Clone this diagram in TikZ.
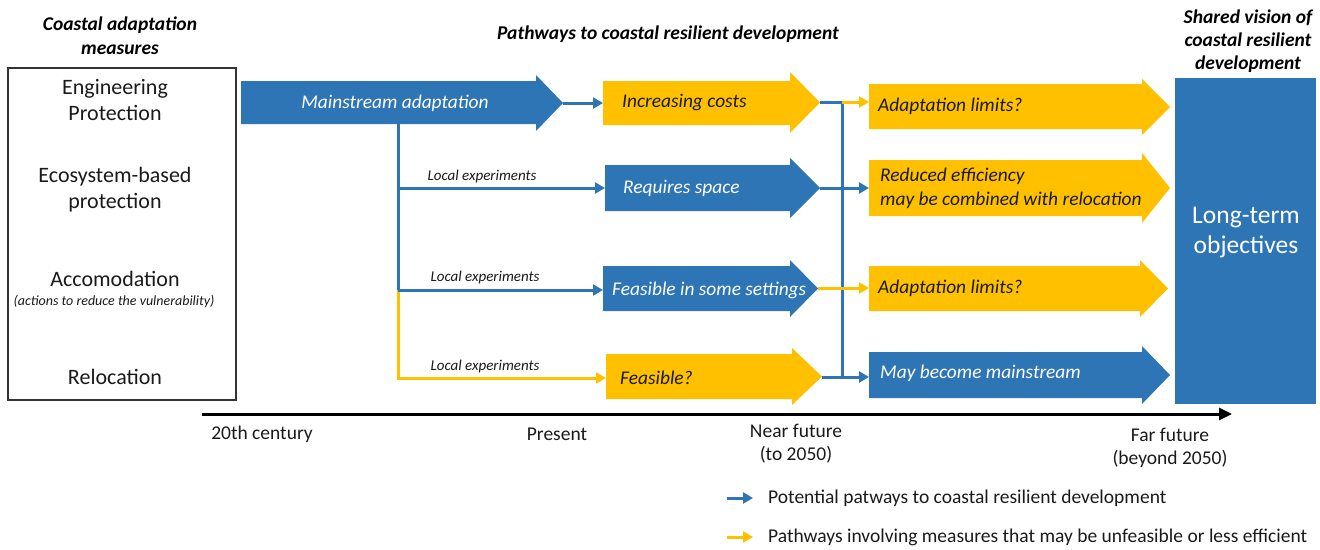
\documentclass[tikz,border=0pt]{standalone}
\usepackage{fontspec}
\setmainfont{Carlito}
\usetikzlibrary{arrows.meta}
\definecolor{ablue}{HTML}{2E75B6}
\definecolor{ayel}{HTML}{FFC000}
\definecolor{txt}{HTML}{1A1A1A}
% #1 colour, #2 left x, #3 head start x, #4 tip x, #5 body top, #6 body bottom, #7 head top, #8 head bottom
\newcommand\blockarrow[8]{\fill[#1] (#2,#5) -- (#3,#5) -- (#3,#7) -- (#4,{(#7+#8)/2}) -- (#3,#8) -- (#3,#6) -- (#2,#6) -- cycle;}
\begin{document}
\begin{tikzpicture}[x=1pt,y=-1pt,
  conn/.style={line width=3pt},
  tipa/.style={-{Triangle[length=10pt,width=11pt]}},
  lbl/.style={font=\fontsize{19.4}{24}\selectfont\itshape, inner sep=0pt, anchor=west},
  wlbl/.style={lbl, text=white},
  ylbl/.style={lbl, text=txt},
  small/.style={font=\fontsize{15}{17}\selectfont\itshape, text=txt, inner sep=0pt},
  measure/.style={font=\fontsize{22}{26}\selectfont, text=txt, align=center, inner sep=0pt},
  title/.style={font=\fontsize{19.5}{23.5}\selectfont\bfseries\itshape, align=center, inner sep=0pt},
  tl/.style={font=\fontsize{19.5}{23}\selectfont, text=txt, align=center, inner sep=0pt},
]
\useasboundingbox (0,0) rectangle (1320,549);

% titles
\node[title, font=\fontsize{19.5}{24}\selectfont\bfseries\itshape] (t1) at (120,36) {Coastal adaptation\\measures};
\node[title] (t2) at (668,34) {Pathways to coastal resilient development};
\node[title, font=\fontsize{19.5}{23}\selectfont\bfseries\itshape] (t3) at (1248,41) {Shared vision of\\coastal resilient\\development};

% left box
\draw[line width=1.2pt, draw=black!80] (8,68) rectangle (236,400);
\node[measure] (m1) at (115,100) {Engineering\\Protection};
\node[measure] (m2) at (115,190) {Ecosystem-based\\protection};
\node[measure] (m3) at (115,279) {Accomodation};
\node[font=\fontsize{14}{16}\selectfont\itshape, text=txt, inner sep=0pt] (m3b) at (114,302) {(actions to reduce the vulnerability)};
\node[measure] (m4) at (115,377) {Relocation};

% block arrows
\blockarrow{ablue}{241}{536}{563}{81}{124}{75}{131}
\blockarrow{ayel}{603}{790}{820}{81}{125}{72}{133}
\blockarrow{ablue}{605}{790}{820}{165}{211}{158}{218}
\blockarrow{ablue}{603}{790}{818}{266}{311}{260}{317}
\blockarrow{ayel}{606}{792}{822}{354}{399}{348}{405}
\blockarrow{ayel}{869}{1142}{1170}{84}{129}{79}{135}
\blockarrow{ayel}{869}{1142}{1170}{160}{216}{153}{223}
\blockarrow{ayel}{869}{1140}{1168}{266}{311}{260}{317}
\blockarrow{ablue}{869}{1142}{1170}{352}{398}{346}{404}
\fill[ablue] (1175,78) rectangle (1316,404);

% texts in arrows
\node[wlbl, anchor=center] (ma) at (395,103) {Mainstream adaptation};
\node[ylbl] (ic) at (622,102) {Increasing costs};
\node[wlbl] (rs) at (623,188) {Requires space};
\node[wlbl] (fs) at (612,290) {Feasible in some settings};
\node[ylbl] (fq) at (620,378) {Feasible?};
\node[ylbl] (al1) at (878,106) {Adaptation limits?};
\node[ylbl, align=left] (re) at (880,188) {Reduced efficiency\\may be combined with relocation};
\node[ylbl] (al2) at (878,288) {Adaptation limits?};
\node[wlbl] (mb) at (880,373) {May become mainstream};
\node[font=\fontsize{25.5}{30}\selectfont, text=white, align=center, inner sep=0pt] (lt) at (1246,233) {Long-term\\objectives};

% named connection points
\coordinate (maT) at (563,103);
\coordinate (maB) at (398,124);
\coordinate (icL) at (603,103);
\coordinate (icT) at (820,102);
\coordinate (rsL) at (605,188);
\coordinate (rsT) at (820,188);
\coordinate (fsL) at (603,290);
\coordinate (fsT) at (818,288);
\coordinate (fqL) at (606,378);
\coordinate (fqT) at (822,377);
\coordinate (al1L) at (869,102);
\coordinate (reL) at (869,188);
\coordinate (al2L) at (869,288);
\coordinate (mbL) at (869,377);
\coordinate (j1) at (398,188);
\coordinate (j2) at (398,290);
\coordinate (j3) at (398,378);
\coordinate (v1) at (842,102);
\coordinate (v2) at (842,377);

% connectors: first column
\draw[conn, ablue, tipa] (maT) -- (icL);
\draw[conn, ayel, tipa] (j2) -- (j3) -- (fqL);
\draw[conn, ablue] (maB) -- (j2);
\draw[conn, ablue, tipa] (j1) -- (rsL);
\draw[conn, ablue, tipa] (j2) -- (fsL);
\node[small, anchor=south] (le1) at (482,183) {Local experiments};
\node[small, anchor=south] (le2) at (485,284) {Local experiments};
\node[small, anchor=south] (le3) at (485,373) {Local experiments};

% connectors: second column
\draw[conn, ablue] (icT) -- (v1) -- (v2);
\draw[conn, ayel, tipa] (v1) -- (al1L);
\draw[conn, ablue, tipa] (rsT) -- (reL);
\draw[conn, ayel, tipa] (fsT) -- (al2L);
\draw[conn, ablue, tipa] (fqT) -- (mbL);

% timeline
\coordinate (tlS) at (202,414);
\coordinate (tlE) at (1232,414);
\draw[line width=3pt, black, -{Triangle[length=13pt,width=12pt]}] (tlS) -- (tlE);
\node[tl] (p1) at (262,434) {20th century};
\node[tl] (p2) at (557,434) {Present};
\node[tl] (p3) at (796,444) {Near future\\(to 2050)};
\node[tl] (p4) at (1170,448) {Far future\\(beyond 2050)};

% legend
\coordinate (lg1a) at (727,498);
\coordinate (lg1b) at (753,498);
\coordinate (lg2a) at (727,537);
\coordinate (lg2b) at (753,537);
\draw[conn, ablue, tipa] (lg1a) -- (lg1b);
\draw[conn, ayel, tipa] (lg2a) -- (lg2b);
\node[tl, anchor=west] (lt1) at (768,498) {Potential patways to coastal resilient development};
\node[tl, anchor=west] (lt2) at (768,537) {Pathways involving measures that may be unfeasible or less efficient};
\end{tikzpicture}
\end{document}
